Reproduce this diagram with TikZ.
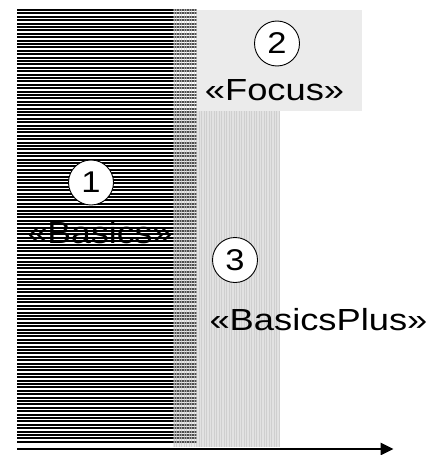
\documentclass[tikz,border=0pt]{standalone}
\usepackage{fontspec}
\setmainfont{Liberation Sans}
\usetikzlibrary{arrows.meta}
\definecolor{focusgray}{HTML}{EBEBEB}
\definecolor{plusgray}{HTML}{E2E2E2}
\definecolor{plusline}{HTML}{CFCFCF}
\tikzset{
  numcircle/.style={circle, draw=black, fill=white, line width=0.9pt, minimum size=45pt, inner sep=0pt, font=\fontsize{30}{36}\selectfont},
  label30/.style={anchor=base, inner sep=0pt, font=\fontsize{30.5}{36}\selectfont},
  stripe/.style={line width=2pt, black},
  vline/.style={line width=0.8pt, plusline},
}
\begin{document}
\begin{tikzpicture}[x=1pt,y=-1pt]
\useasboundingbox (0,0) rectangle (434,455);
% Focus region
\fill[focusgray] (197,10) rectangle (362,111);
% BasicsPlus region
\fill[plusgray] (173,111) rectangle (280,447);
\foreach \i in {0,...,42} \draw[vline] (174+\i*2.5,111) -- (174+\i*2.5,447);
% Basics region: black horizontal stripes
\foreach \i in {0,...,127} \draw[stripe] (17,10+\i*3.4) -- (197,10+\i*3.4);
% overlap strip
\fill[white, fill opacity=0.3] (173,9) rectangle (197,447);
\foreach \i in {0,...,9} \draw[vline, opacity=0.6] (174+\i*2.5,9) -- (174+\i*2.5,447);
% labels
\node[label30] (focus) at (274.5,100) {\scalebox{1.19}[1]{«Focus»}};
\node[label30] (basics) at (100,243) {\scalebox{1.17}[1]{«Basics»}};
\node[label30] (plus) at (318.5,330) {\scalebox{1.19}[1]{«BasicsPlus»}};
\node[numcircle] (c1) at (91,182.5) {\scalebox{1.15}[1]{1}};
\node[numcircle] (c2) at (277,43.5) {\scalebox{1.15}[1]{2}};
\node[numcircle] (c3) at (235,260) {\scalebox{1.15}[1]{3}};
% axis arrow
\coordinate (axstart) at (17,449);
\coordinate (axend) at (393.5,449);
\draw[line width=2.8pt, -{Triangle[length=13pt,width=12pt]}] (axstart) -- (axend);
\end{tikzpicture}
\end{document}
